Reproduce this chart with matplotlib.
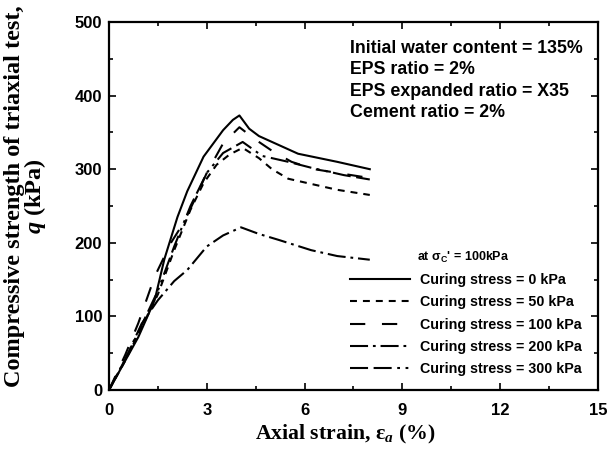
import numpy as np
import matplotlib
matplotlib.use('Agg')
import matplotlib.pyplot as plt
from matplotlib.ticker import MultipleLocator

plt.rcParams['lines.scale_dashes'] = False
plt.rcParams['mathtext.fontset'] = 'custom'
plt.rcParams['mathtext.rm'] = 'Liberation Serif:bold'
plt.rcParams['mathtext.it'] = 'Liberation Serif:italic:bold'
plt.rcParams['mathtext.sf'] = 'Liberation Sans:bold'

# Datos (deformacion axial % , q kPa)
eps_0 = [0, 0.5, 0.9, 1.4, 1.7, 2.1, 2.4, 2.9, 3.5, 3.8, 4.0, 4.3, 4.6, 5.2, 5.8, 7.0, 8.0]
q_0 = [0, 40, 72, 122, 178, 235, 270, 317, 353, 367, 373, 355, 345, 333, 321, 310, 300]

eps_50 = [0, 0.5, 1.0, 1.5, 2.0, 2.5, 2.9, 3.3, 3.7, 4.1, 4.6, 5.0, 5.5, 6.2, 7.0, 8.0]
q_50 = [0, 40, 85, 130, 190, 245, 281, 306, 320, 329, 315, 300, 287, 280, 272, 265]

eps_100 = [0, 0.5, 0.9, 1.4, 1.9, 2.3, 2.6, 3.0, 3.5, 4.0, 4.5, 5.0, 5.6, 6.3, 7.0, 8.0]
q_100 = [0, 48, 91, 154, 200, 228, 256, 295, 335, 357, 340, 325, 310, 300, 295, 288]

eps_200 = [0, 0.5, 1.0, 1.5, 2.0, 2.4, 3.0, 3.5, 4.05, 4.6, 5.2, 6.2, 7.0, 8.0]
q_200 = [0, 42, 90, 122, 148, 163, 195, 210, 221, 212, 204, 190, 182, 177]

eps_300 = [0, 0.5, 1.0, 1.5, 2.0, 2.5, 3.0, 3.5, 4.1, 4.7, 5.5, 6.2, 7.2, 8.0]
q_300 = [0, 42, 88, 135, 195, 250, 295, 322, 337, 318, 310, 302, 292, 286]

labels = ['Curing stress = 0 kPa', 'Curing stress = 50 kPa', 'Curing stress = 100 kPa',
          'Curing stress = 200 kPa', 'Curing stress = 300 kPa']

fig = plt.figure(figsize=(6.1, 4.57), dpi=100)
ax = fig.add_axes([0.1787, 0.1466, 0.8016, 0.8053])

lw = 1.5
ax.plot(eps_0, q_0, color='k', lw=lw, label=labels[0])
ax.plot(eps_50, q_50, color='k', lw=lw, dashes=(5, 4.3), label=labels[1])
ax.plot(eps_100, q_100, color='k', lw=lw, dashes=(11, 12), label=labels[2])
ax.plot(eps_200, q_200, color='k', lw=lw, dashes=(13, 3.5, 2, 3.5), label=labels[3])
ax.plot(eps_300, q_300, color='k', lw=lw, dashes=(13, 4, 13, 4, 2, 4, 2, 4), label=labels[4])

ax.set_xlim(0, 15)
ax.set_ylim(0, 500)
ax.xaxis.set_major_locator(MultipleLocator(3))
ax.xaxis.set_minor_locator(MultipleLocator(1.5))
ax.yaxis.set_major_locator(MultipleLocator(100))
ax.yaxis.set_minor_locator(MultipleLocator(50))
ax.tick_params(which='both', direction='in', top=True, right=True, width=1.2)
ax.tick_params(which='major', length=5)
ax.tick_params(which='minor', length=3)
ax.tick_params(axis='x', pad=9)
ax.tick_params(axis='y', pad=5)
for lab in ax.get_xticklabels() + ax.get_yticklabels():
    lab.set_fontfamily('Liberation Sans')
    lab.set_fontweight('bold')
    lab.set_fontsize(12)
for s in ax.spines.values():
    s.set_linewidth(1.6)

ax.set_xlabel(r'Axial strain, $\mathrm{\varepsilon}_{a}$ (%)', family='Liberation Serif',
              fontweight='bold', fontsize=15.7)
ax.xaxis.set_label_coords(0.483, -0.09)
fig.text(26 / 610, 1 - 196 / 457, 'Compressive strength of triaxial test,\n$q$ (kPa)',
         family='Liberation Serif', fontweight='bold', fontsize=17.5, linespacing=0.85,
         rotation=90, ha='center', va='center', multialignment='center')

ax.text(0.493, 0.952, 'Initial water content = 135%\nEPS ratio = 2%\n'
        'EPS expanded ratio = X35\nCement ratio = 2%',
        transform=ax.transAxes, ha='left', va='top', family='Liberation Sans',
        fontweight='bold', fontsize=12.8, linespacing=1.35)

ax.text(0.63, 0.36, r"at $\mathsf{\sigma_C}$' = 100kPa", transform=ax.transAxes,
        ha='left', va='center', family='Liberation Sans', fontweight='bold', fontsize=9)

leg = ax.legend(loc='upper left', bbox_to_anchor=(0.493, 0.318), frameon=False,
                prop={'family': 'Liberation Sans', 'weight': 'bold', 'size': 10.3},
                handlelength=4.2, handletextpad=0.7, labelspacing=0.58, borderpad=0,
                borderaxespad=0)

fig.savefig('out.png', dpi=100)
